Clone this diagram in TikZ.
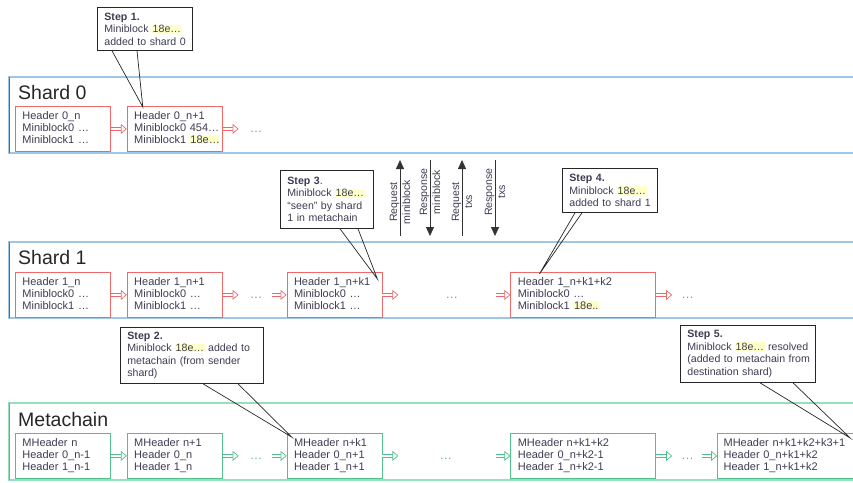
\documentclass[tikz,border=0pt]{standalone}
\usepackage{fontspec}
\setmainfont{Liberation Sans}
\usepackage{xcolor}
\usepackage{tikz}
\usetikzlibrary{positioning, calc, arrows.meta}

\definecolor{laneblue}{RGB}{160,198,230}
\definecolor{laneblueedge}{RGB}{60,110,185}
\definecolor{lanegreen}{RGB}{150,222,188}
\definecolor{lanegreenedge}{RGB}{80,185,135}
\definecolor{blockred}{RGB}{240,105,105}
\definecolor{blockgreen}{RGB}{80,192,140}
\definecolor{txtgray}{RGB}{62,60,82}
\definecolor{hashyellow}{RGB}{255,255,200}

\newcommand{\mbhash}[1][…]{{\setlength{\fboxsep}{0.6pt}\colorbox{hashyellow}{18e#1}}}

\tikzset{
  block/.style={draw, line width=0.8pt, fill=white, text=txtgray, align=left,
    font=\fontsize{11}{12}\selectfont, inner xsep=7pt, inner ysep=4pt,
    minimum height=45pt, text width=81pt, execute at end node={\vphantom{g}}},
  shardblock/.style={block, draw=blockred},
  metablock/.style={block, draw=blockgreen},
  wideblock/.style={text width=131pt},
  flowred/.style={draw=blockred, double=white, double distance=2.6pt, line width=0.7pt,
    -{Triangle[open, fill=white, length=6pt, width=10pt, line width=0.7pt]}},
  flowgreen/.style={flowred, draw=blockgreen},
  reddots/.style={text=blockred, inner sep=0pt, font=\fontsize{12.5}{12}\selectfont, yshift=-3pt},
  greendots/.style={reddots, text=blockgreen},
  lanetitle/.style={anchor=base west, inner sep=0pt, text=black!85, font=\fontsize{19.5}{20}\selectfont},
  stepbox/.style={draw=black!85, line width=0.8pt, fill=white, text=txtgray, align=left,
    anchor=north west, font=\fontsize{10.6}{12.5}\selectfont, inner xsep=7pt, inner ysep=3pt},
  pointer/.style={draw=black!85, line width=0.7pt},
  msgarrow/.style={draw=black!80, line width=0.8pt, -{Triangle[length=9pt, width=8pt]}},
  msglabel/.style={rotate=90, align=center, inner sep=0pt, text=txtgray,
    font=\fontsize{10.6}{13}\selectfont},
}

\begin{document}
\begin{tikzpicture}[x=1pt, y=-1pt]
  \useasboundingbox (0,0) rectangle (853,482);

  % lanes
  \draw[laneblue, line width=1.6pt] (853,77) -| (9,153) -- (853,153);
  \draw[laneblueedge, line width=0.8pt] (9,77) -- (9,153);
  \draw[laneblue, line width=1.6pt] (853,242) -| (9,318) -- (853,318);
  \draw[laneblueedge, line width=0.8pt] (9,242) -- (9,318);
  \draw[lanegreen, line width=1.6pt] (853,403) -| (9,480) -- (853,480);
  \draw[lanegreenedge, line width=0.8pt] (9,403) -- (9,480);

  \node[lanetitle] (t0) at (18,99) {Shard 0};
  \node[lanetitle] (t1) at (18,264) {Shard 1};
  \node[lanetitle] (tm) at (18,426) {Metachain};

  % shard 0
  \node[shardblock, anchor=north west] (s0a) at (15,106) {Header 0\_n\\Miniblock0 …\\Miniblock1 …};
  \node[shardblock, right=16pt of s0a] (s0b) {Header 0\_n+1\\Miniblock0~454…\\Miniblock1~\mbhash};
  \node[reddots, right=27pt of s0b] (d0a) {…};
  \draw[flowred] (s0a) -- (s0b);
  \draw[flowred, shorten >=11pt] (s0b.east) -- (s0b.east -| d0a.west);

  % shard 1
  \node[shardblock, anchor=north west] (s1a) at (15,272) {Header 1\_n\\Miniblock0 …\\Miniblock1 …};
  \node[shardblock, right=16pt of s1a] (s1b) {Header 1\_n+1\\Miniblock0 …\\Miniblock1 …};
  \node[reddots, right=27pt of s1b] (d1a) {…};
  \node[shardblock, right=64pt of s1b] (s1c) {Header 1\_n+k1\\Miniblock0 …\\Miniblock1 …};
  \node[reddots, right=63pt of s1c] (d1b) {…};
  \node[shardblock, wideblock, right=128pt of s1c] (s1d) {Header 1\_n+k1+k2\\Miniblock0 …\\Miniblock1~\mbhash[..]};
  \node[reddots, right=25pt of s1d] (d1c) {…};
  \draw[flowred] (s1a) -- (s1b);
  \draw[flowred, shorten >=11pt] (s1b.east) -- (s1b.east -| d1a.west);
  \draw[flowred, shorten <=9pt] (s1c.west -| d1a.east) -- (s1c.west);
  \draw[flowred, shorten >=47pt] (s1c.east) -- (s1c.east -| d1b.west);
  \draw[flowred, shorten <=38pt] (s1d.west -| d1b.east) -- (s1d.west);
  \draw[flowred, shorten >=9pt] (s1d.east) -- (s1d.east -| d1c.west);

  % metachain
  \node[metablock, anchor=north west] (ma) at (15,433) {MHeader n\\Header 0\_n-1\\Header 1\_n-1};
  \node[metablock, right=16pt of ma] (mb) {MHeader n+1\\Header 0\_n\\Header 1\_n};
  \node[greendots, right=27pt of mb] (dm1) {…};
  \node[metablock, right=64pt of mb] (mc) {MHeader n+k1\\Header 0\_n+1\\Header 1\_n+1};
  \node[greendots, right=57pt of mc] (dm2) {…};
  \node[metablock, wideblock, right=128pt of mc] (md) {MHeader n+k1+k2\\Header 0\_n+k2-1\\Header 1\_n+k2-1};
  \node[greendots, right=25pt of md] (dm3) {…};
  \node[metablock, text width=127pt, inner xsep=6pt, right=61pt of md] (me) {MHeader~n+k1+k2+k3+1\\Header 0\_n+k1+k2\\Header 1\_n+k1+k2};
  \draw[flowgreen] (ma) -- (mb);
  \draw[flowgreen, shorten >=11pt] (mb.east) -- (mb.east -| dm1.west);
  \draw[flowgreen, shorten <=9pt] (mc.west -| dm1.east) -- (mc.west);
  \draw[flowgreen, shorten >=41pt] (mc.east) -- (mc.east -| dm2.west);
  \draw[flowgreen, shorten <=44pt] (md.west -| dm2.east) -- (md.west);
  \draw[flowgreen, shorten >=9pt] (md.east) -- (md.east -| dm3.west);
  \draw[flowgreen, shorten <=8pt] (me.west -| dm3.east) -- (me.west);

  % requests between shards
  \coordinate (rqmb-lo) at (400,236);
  \coordinate (rqmb-hi) at (400,160);
  \coordinate (rsmb-hi) at (430,160);
  \coordinate (rsmb-lo) at (430,236);
  \coordinate (rqtx-lo) at (462,236);
  \coordinate (rqtx-hi) at (462,160);
  \coordinate (rstx-hi) at (495,160);
  \coordinate (rstx-lo) at (495,236);
  \draw[msgarrow] (rqmb-lo) -- (rqmb-hi);
  \draw[msgarrow] (rsmb-hi) -- (rsmb-lo);
  \draw[msgarrow] (rqtx-lo) -- (rqtx-hi);
  \draw[msgarrow] (rstx-hi) -- (rstx-lo);
  \node[msglabel] (lrqmb) at (400,202) {Request\\miniblock};
  \node[msglabel] (lrsmb) at (430,192) {Response\\miniblock};
  \node[msglabel] (lrqtx) at (462,202) {Request\\txs};
  \node[msglabel] (lrstx) at (495,192) {Response\\txs};

  % steps
  \node[stepbox, text width=81pt, minimum height=43pt] (step1) at (97,7)
    {\textbf{Step 1.}\\Miniblock \mbhash\\added~to~shard~0};
  \node[stepbox, text width=129pt, minimum height=56pt] (step2) at (120,327)
    {\textbf{Step 2.}\\Miniblock \mbhash{} added to\\metachain (from sender\\shard)};
  \node[stepbox, text width=79pt, minimum height=58pt] (step3) at (280,170)
    {\textbf{Step 3}.\\Miniblock \mbhash\\“seen”~by~shard\\1~in~metachain};
  \node[stepbox, text width=81pt, minimum height=44pt] (step4) at (562,168)
    {\textbf{Step 4.}\\Miniblock \mbhash\\added~to~shard~1};
  \node[stepbox, text width=121pt, minimum height=57pt] (step5) at (680,325)
    {\textbf{Step 5.}\\Miniblock~\mbhash{}~resolved\\(added~to~metachain~from\\destination shard)};

  \coordinate (tip1) at ($(s0b.north west)+(16,1)$);
  \coordinate (tip2) at ($(mc.north west)+(5,4)$);
  \coordinate (tip3) at ($(s1c.north east)+(-5,7)$);
  \coordinate (tip4) at ($(s1d.north west)+(29,2)$);
  \coordinate (tip5) at ($(me.north west)+(133,5)$);
  \draw[pointer] ($(step1.south west)+(15,0)$) -- (tip1) -- ($(step1.south west)+(40,0)$);
  \draw[pointer] ($(step2.south west)+(83,0)$) -- (tip2) -- ($(step2.south west)+(118,0)$);
  \draw[pointer] ($(step3.south west)+(60,0)$) -- (tip3) -- ($(step3.south west)+(78,0)$);
  \draw[pointer] ($(step4.south west)+(13,0)$) -- (tip4) -- ($(step4.south west)+(20,0)$);
  \draw[pointer] ($(step5.south west)+(80,0)$) -- (tip5) -- ($(step5.south west)+(113,0)$);
\end{tikzpicture}
\end{document}
